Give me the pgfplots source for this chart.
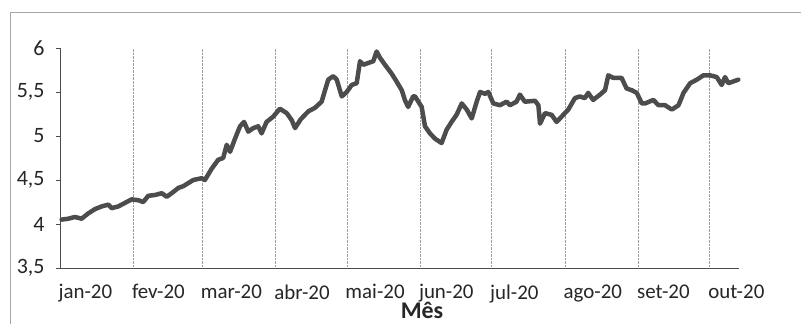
\documentclass[border=0pt]{standalone}
\usepackage{pgfplots}
\pgfplotsset{compat=1.18}
\usepackage{fontspec}
\setmainfont{Carlito}
\begin{document}
\begin{tikzpicture}
\useasboundingbox (0,0) rectangle (801bp,324bp);
\fill[white] (0,0) rectangle (801bp,324bp);
\draw[gray!70, line width=0.8bp] (10bp,0) -- (10bp,312bp) -- (801bp,312bp);
\begin{axis}[
  scale only axis,
  width=679bp, height=220bp,
  anchor=south west, at={(60bp,56bp)},
  xmin=0, xmax=286.3,
  ymin=3.5, ymax=6,
  axis x line*=bottom, axis y line*=left,
  axis line style={draw=gray!60!black, line width=0.9bp, -},
  xtick={0,31,60,91,121,152,182,213,244,274},
  xticklabels={jan-20,fev-20,mar-20,abr-20,mai-20,jun-20,jul-20,ago-20,set-20,out-20},
  x tick style={draw=none},
  ytick={3.5,4,4.5,5,5.5,6},
  y tick style={draw=gray!60!black, line width=0.8bp},
  tick align=outside,
  major tick length=4bp,
  xmajorgrids,
  grid style={gray!75, densely dotted, line width=0.8bp},
  /pgf/number format/use comma,
  /pgf/number format/assume math mode=true,
  xticklabel style={font=\fontsize{21}{24}\selectfont, anchor=north west, xshift=-5bp, yshift=-9bp, text=black!85},
  yticklabel style={font=\fontsize{22}{24}\selectfont, text=black!85, xshift=-8bp},
  clip=false,
]
\addplot[color=black!70, line width=4.5bp, line join=round, line cap=round] coordinates {
(0.7,4.05) (3.5,4.06) (6.3,4.08) (9.1,4.06) (11.9,4.12) (14.8,4.17) (17.6,4.20) (20.4,4.22)
(21.8,4.18) (24.6,4.20) (27.4,4.24) (30.2,4.28) (33.0,4.27) (35.1,4.25) (37.2,4.32) (40.1,4.33)
(42.9,4.35) (45.0,4.31) (47.1,4.35) (49.9,4.41) (52.0,4.43) (56.2,4.50) (59.7,4.52) (61.1,4.50)
(64.0,4.63) (66.7,4.73) (68.8,4.75) (70.3,4.90) (71.7,4.82) (73.8,4.97) (75.9,5.11) (77.6,5.16)
(79.4,5.05) (81.5,5.09) (83.6,5.11) (85.0,5.03) (87.1,5.16) (89.9,5.22) (92.7,5.31) (95.6,5.26)
(97.7,5.18) (99.1,5.09) (101.5,5.19) (104.7,5.28) (107.5,5.32) (110.3,5.39) (113.1,5.64) (115.2,5.68)
(116.7,5.64) (118.8,5.45) (120.9,5.50) (123.0,5.58) (125.1,5.60) (126.5,5.85) (127.9,5.81) (130.0,5.83)
(132.1,5.85) (133.5,5.96) (134.9,5.89) (137.0,5.81) (139.8,5.71) (141.9,5.62) (144.1,5.52) (145.4,5.41)
(146.8,5.33) (148.9,5.45) (149.7,5.45) (152.5,5.33) (153.9,5.11) (156.0,5.03) (158.1,4.97) (160.9,4.92)
(163.0,5.07) (165.1,5.16) (167.2,5.24) (169.4,5.37) (171.5,5.30) (173.6,5.20) (175.7,5.39) (177.1,5.50)
(179.2,5.48) (180.6,5.50) (182.7,5.37) (185.5,5.35) (188.3,5.39) (189.7,5.35) (192.5,5.39) (193.9,5.47)
(196.0,5.39) (200.3,5.40) (201.7,5.35) (202.4,5.14) (204.5,5.26) (207.3,5.24) (209.4,5.16) (211.5,5.22)
(214.3,5.30) (217.1,5.43) (219.2,5.45) (221.3,5.43) (222.7,5.49) (224.8,5.41) (227.7,5.47) (229.8,5.52)
(231.2,5.69) (233.3,5.66) (236.8,5.66) (238.9,5.54) (241.1,5.52) (243.2,5.49) (245.3,5.37) (246.7,5.37)
(250.2,5.41) (252.3,5.35) (255.1,5.35) (258.0,5.30) (260.8,5.35) (262.9,5.49) (265.7,5.60) (268.5,5.64)
(271.3,5.69) (274.0,5.69) (276.9,5.67) (279.0,5.58) (280.4,5.67) (281.8,5.60) (283.9,5.62) (286.0,5.64)
};
\end{axis}
\node[anchor=base, font=\fontsize{24}{28}\selectfont\bfseries, text=black!85] at (422bp,6bp) {Mês};
\end{tikzpicture}
\end{document}
